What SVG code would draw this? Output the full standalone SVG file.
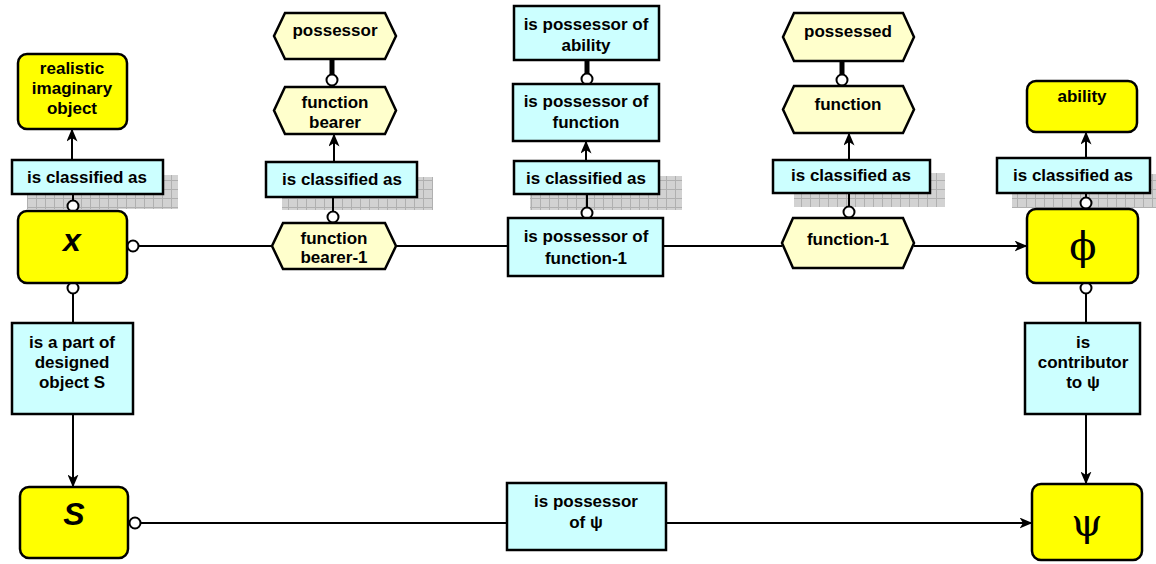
<svg xmlns="http://www.w3.org/2000/svg" width="1156" height="564" viewBox="0 0 1156 564">
<defs>
<pattern id="grid" width="9" height="9" patternUnits="userSpaceOnUse">
<rect width="9" height="9" fill="#d2d2d2"/>
<path d="M0,0.5 H9 M0.5,0 V9" stroke="#b0b0b0" stroke-width="1" fill="none"/>
</pattern>
<marker id="arr" viewBox="0 0 13 11" refX="12.5" refY="5.5" markerWidth="13" markerHeight="11" markerUnits="userSpaceOnUse" orient="auto">
<path d="M0,0 L13,5.5 L0,11 L3.5,5.5 z" fill="#000"/>
</marker>
</defs>
<style>
.t{font-family:"Liberation Sans",Arial,sans-serif;font-weight:bold;font-size:17px;fill:#000;text-anchor:middle;dominant-baseline:central}
.yel{fill:#ffff00;stroke:#000;stroke-width:2.5}
.cy{fill:#ccffff;stroke:#000;stroke-width:2.5}
.hex{fill:#ffffcc;stroke:#000;stroke-width:2.5}
.sh{fill:url(#grid)}
.ln{stroke:#000;stroke-width:2;fill:none}
.thk{stroke:#000;stroke-width:5;fill:none}
.dot{fill:#fff;stroke:#000;stroke-width:2}
.big{font-family:"Liberation Sans",Arial,sans-serif;font-weight:bold;font-style:italic;font-size:32px;text-anchor:middle;dominant-baseline:central}
.grk{font-family:"DejaVu Serif","Liberation Serif",serif;font-size:40px;text-anchor:middle;dominant-baseline:central}
</style>

<g id="shadows">
<rect class="sh" x="27" y="175" width="151" height="34"/>
<rect class="sh" x="282" y="177" width="151" height="33"/>
<rect class="sh" x="530" y="176" width="152" height="34"/>
<rect class="sh" x="794" y="173" width="151" height="34"/>
<rect class="sh" x="1012" y="174" width="144" height="34"/>
</g>

<g id="connectors">
<line class="ln" x1="138" y1="246" x2="272" y2="246"/>
<line class="ln" x1="396" y1="246" x2="508" y2="246"/>
<line class="ln" x1="663" y1="246" x2="782" y2="246"/>
<line class="ln" x1="914" y1="246" x2="1027" y2="246" marker-end="url(#arr)"/>
<line class="ln" x1="140" y1="523" x2="1032" y2="523" marker-end="url(#arr)"/>
<line class="ln" x1="73" y1="293" x2="73" y2="323"/>
<line class="ln" x1="73" y1="414" x2="73" y2="487" marker-end="url(#arr)"/>
<line class="ln" x1="1086" y1="293" x2="1086" y2="323"/>
<line class="ln" x1="1086" y1="414" x2="1086" y2="484" marker-end="url(#arr)"/>
<line class="ln" x1="73" y1="201" x2="73" y2="194"/>
<line class="ln" x1="72" y1="160" x2="72" y2="129" marker-end="url(#arr)"/>
<line class="ln" x1="333" y1="212" x2="333" y2="197"/>
<line class="ln" x1="334" y1="162" x2="334" y2="134" marker-end="url(#arr)"/>
<line class="thk" x1="332" y1="59" x2="332" y2="75"/>
<line class="ln" x1="587" y1="208" x2="587" y2="194"/>
<line class="ln" x1="586" y1="161" x2="586" y2="141" marker-end="url(#arr)"/>
<line class="thk" x1="587" y1="60" x2="587" y2="74"/>
<line class="ln" x1="849" y1="207" x2="849" y2="193"/>
<line class="ln" x1="849" y1="160" x2="849" y2="133" marker-end="url(#arr)"/>
<line class="thk" x1="842" y1="61" x2="842" y2="75"/>
<line class="ln" x1="1086" y1="198" x2="1086" y2="193"/>
<line class="ln" x1="1086" y1="158" x2="1086" y2="132" marker-end="url(#arr)"/>
<circle class="dot" cx="133" cy="246" r="5.5"/>
<circle class="dot" cx="135" cy="523" r="5.5"/>
<circle class="dot" cx="73" cy="288" r="5.5"/>
<circle class="dot" cx="73" cy="206" r="5.5"/>
<circle class="dot" cx="1086" cy="288" r="5.5"/>
<circle class="dot" cx="1086" cy="203" r="5.5"/>
<circle class="dot" cx="333" cy="217" r="5.5"/>
<circle class="dot" cx="332" cy="80" r="5.5"/>
<circle class="dot" cx="587" cy="213" r="5.5"/>
<circle class="dot" cx="587" cy="79" r="5.5"/>
<circle class="dot" cx="849" cy="212" r="5.5"/>
<circle class="dot" cx="842" cy="80" r="5.5"/>
</g>

<g id="realistic-imaginary-object">
<rect class="yel" x="18" y="54" width="109" height="75" rx="9"/>
<text class="t" x="72" y="68">realistic</text>
<text class="t" x="72" y="88">imaginary</text>
<text class="t" x="72" y="108">object</text>
</g>
<g id="classified-1">
<rect class="cy" x="12" y="160" width="151" height="34"/>
<text class="t" x="87" y="177">is classified as</text>
</g>
<g id="x">
<rect class="yel" x="18" y="211" width="109" height="72" rx="9"/>
<text class="big" x="72" y="240">x</text>
</g>
<g id="part-of-S">
<rect class="cy" x="12" y="323" width="121" height="91"/>
<text class="t" x="72" y="342">is a part of</text>
<text class="t" x="72" y="362">designed</text>
<text class="t" x="72" y="382">object S</text>
</g>
<g id="S">
<rect class="yel" x="20" y="487" width="108" height="71" rx="9"/>
<text class="big" x="74" y="514">S</text>
</g>

<g id="possessor">
<polygon class="hex" points="285,13 385,13 396,36 385,59 285,59 274,36"/>
<text class="t" x="335" y="30">possessor</text>
</g>
<g id="function-bearer">
<polygon class="hex" points="285,87 385,87 396,110.5 385,134 285,134 274,110.5"/>
<text class="t" x="335" y="102">function</text>
<text class="t" x="335" y="122">bearer</text>
</g>
<g id="classified-2">
<rect class="cy" x="266" y="162" width="151" height="35"/>
<text class="t" x="342" y="179">is classified as</text>
</g>
<g id="function-bearer-1">
<polygon class="hex" points="283,223 385,223 396,246 385,269 283,269 272,246"/>
<text class="t" x="334" y="238">function</text>
<text class="t" x="334" y="257">bearer-1</text>
</g>

<g id="possessor-of-ability">
<rect class="cy" x="514" y="6" width="145" height="54"/>
<text class="t" x="586" y="24">is possessor of</text>
<text class="t" x="586" y="45">ability</text>
</g>
<g id="possessor-of-function">
<rect class="cy" x="513" y="84" width="146" height="57"/>
<text class="t" x="586" y="101">is possessor of</text>
<text class="t" x="586" y="122">function</text>
</g>
<g id="classified-3">
<rect class="cy" x="514" y="161" width="145" height="33"/>
<text class="t" x="586" y="178">is classified as</text>
</g>
<g id="possessor-of-function-1">
<rect class="cy" x="508" y="218" width="155" height="58"/>
<text class="t" x="586" y="236">is possessor of</text>
<text class="t" x="586" y="258">function-1</text>
</g>

<g id="possessed">
<polygon class="hex" points="794,13 903,13 914,37 903,61 794,61 783,37"/>
<text class="t" x="848" y="31">possessed</text>
</g>
<g id="function">
<polygon class="hex" points="794,86 903,86 914,109.5 903,133 794,133 783,109.5"/>
<text class="t" x="848" y="104">function</text>
</g>
<g id="classified-4">
<rect class="cy" x="773" y="160" width="157" height="33"/>
<text class="t" x="851" y="175">is classified as</text>
</g>
<g id="function-1">
<polygon class="hex" points="793,218 903,218 914,243 903,268 793,268 782,243"/>
<text class="t" x="848" y="239">function-1</text>
</g>

<g id="ability">
<rect class="yel" x="1027" y="81" width="110" height="51" rx="9"/>
<text class="t" x="1082" y="96">ability</text>
</g>
<g id="classified-5">
<rect class="cy" x="997" y="158" width="153" height="35"/>
<text class="t" x="1073" y="175">is classified as</text>
</g>
<g id="phi">
<rect class="yel" x="1027" y="209" width="111" height="74" rx="9"/>
<text class="grk" x="1083" y="246">ϕ</text>
</g>
<g id="contributor">
<rect class="cy" x="1025" y="323" width="115" height="91"/>
<text class="t" x="1083" y="342">is</text>
<text class="t" x="1083" y="362">contributor</text>
<text class="t" x="1083" y="382">to ψ</text>
</g>
<g id="psi">
<rect class="yel" x="1032" y="484" width="110" height="76" rx="9"/>
<text class="grk" x="1087" y="522">ψ</text>
</g>

<g id="possessor-of-psi">
<rect class="cy" x="507" y="483" width="159" height="67"/>
<text class="t" x="586" y="501">is possessor</text>
<text class="t" x="586" y="522">of ψ</text>
</g>
</svg>
